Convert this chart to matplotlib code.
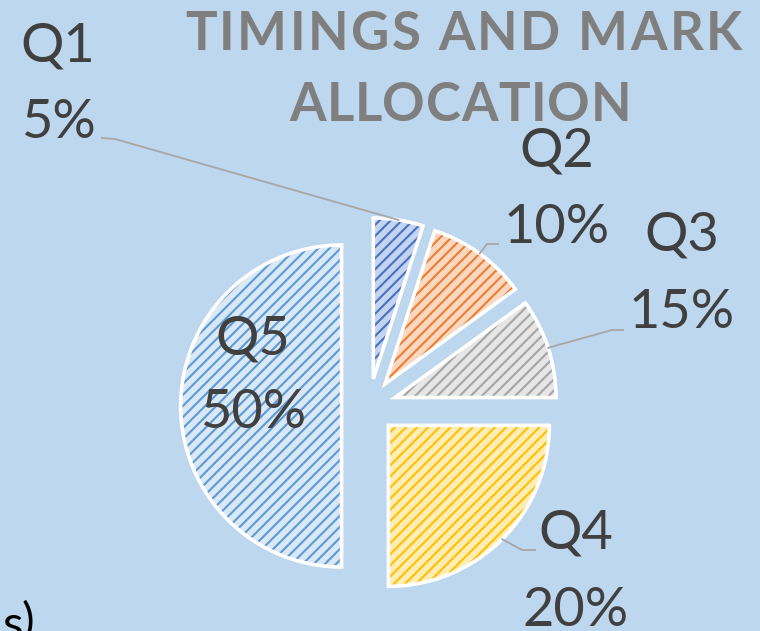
import matplotlib
matplotlib.use("Agg")
import matplotlib.pyplot as plt
from matplotlib.patches import Wedge
import numpy as np

# slice sizes as drawn (angles) and the data labels as printed
questions = ['Q1', 'Q2', 'Q3', 'Q4', 'Q5']
shares = [5, 10, 10, 25, 50]
label_pct = ['5%', '10%', '15%', '20%', '50%']

fill_colors = ['#C5D3EE', '#F9D8C2', '#E6E6E6', '#FFEDB5', '#DAE8F6']
hatch_colors = ['#4472C4', '#ED7D31', '#A5A5A5', '#FFC000', '#5B9BD5']

title_lines = ['TIMINGS AND MARK', 'ALLOCATION']

BG = '#BDD7EE'
W_PX, H_PX = 760, 631
CX, CY, R = 369, 406, 161   # pie centre and radius in pixels (from top-left)


def px(x, y):
    # pixel position (from top-left) -> data coords of the pie axes
    return (x - CX) / R, (CY - y) / R


plt.rcParams['hatch.linewidth'] = 1.5

fig = plt.figure(figsize=(W_PX / 100, H_PX / 100), dpi=100, facecolor=BG)
ax = fig.add_axes([0, 0, 1, 1])
ax.set_facecolor(BG)

wedges, _ = ax.pie(shares, startangle=90, counterclock=False, radius=1,
                   explode=[0.17] * len(shares), colors=fill_colors,
                   wedgeprops=dict(linewidth=0))

for w, hc in zip(wedges, hatch_colors):
    ax.add_patch(Wedge(w.center, w.r, w.theta1, w.theta2, facecolor='none',
                       edgecolor=hc, linewidth=0, hatch='///', zorder=2))
    ax.add_patch(Wedge(w.center, w.r, w.theta1, w.theta2, fill=False,
                       edgecolor='white', linewidth=2.6, zorder=3,
                       joinstyle='miter'))

ax.set_xlim(-CX / R, (W_PX - CX) / R)
ax.set_ylim((CY - H_PX) / R, CY / R)
ax.set_aspect('equal')
ax.axis('off')

# data labels: (x-centre, name baseline y, pct baseline y) in pixels
label_font = dict(family='Lato', fontsize=39, color='#404040')
label_pos = {
    'Q1': (58, 61, 138),
    'Q2': (557, 166, 243),
    'Q3': (682, 250, 328),
    'Q4': (576, 548, 626),
    'Q5': (253, 354, 428),
}
for q, pct in zip(questions, label_pct):
    x, y1, y2 = label_pos[q]
    ax.text(*px(x, y1), q, ha='center', va='baseline', zorder=5, **label_font)
    ax.text(*px(x, y2), pct, ha='center', va='baseline', zorder=5, **label_font)

# leader lines: start at the middle of each slice's arc, elbow, end near label
leaders = {
    'Q1': [(115, 139), (102, 138)],
    'Q2': [(487, 244), (498, 244)],
    'Q3': [(612, 330), (623, 330)],
    'Q4': [(522, 550), (535, 550)],
}
for q, w in zip(questions, wedges):
    if q not in leaders:
        continue
    mid = np.deg2rad((w.theta1 + w.theta2) / 2)
    sx = w.center[0] + w.r * np.cos(mid)
    sy = w.center[1] + w.r * np.sin(mid)
    pts = [(sx, sy)] + [px(*p) for p in leaders[q]]
    xs, ys = zip(*pts)
    ax.plot(xs, ys, color='#A6A6A6', linewidth=1.3, zorder=4,
            solid_joinstyle='miter')

# title with wide letter spacing, placed one character at a time
fig.canvas.draw()
renderer = fig.canvas.get_renderer()
title_font = dict(family='Lato', fontsize=38, fontweight='bold', color='#7F7F7F')
probe = fig.text(0, 0, 'H', **title_font)


def text_w(s):
    probe.set_text(s)
    return probe.get_window_extent(renderer).width


h_w = text_w('H')
title_spans = [(185, 742, 50), (289, 631, 121)]  # left px, right px, baseline px
for line, (left, right, base) in zip(title_lines, title_spans):
    offs = [text_w(line[:i] + 'H') - h_w if i else 0 for i in range(len(line))]
    natural = text_w(line)
    sp = (right - left - natural) / (len(line) - 1)
    for i, ch in enumerate(line):
        if ch == ' ':
            continue
        fig.text((left + offs[i] + i * sp) / W_PX, 1 - base / H_PX, ch,
                 ha='left', va='baseline', **title_font)
probe.remove()

# cut-off text from the slide behind the chart
fig.text(2 / W_PX, 1 - 605 / H_PX, 's', ha='left', va='top',
         family='Lato', fontsize=34, color='black')
fig.text(21 / W_PX, 1 - 601 / H_PX, ')', ha='left', va='top',
         family='Lato', fontsize=34, color='black')

fig.savefig('out.png', dpi=100, facecolor=BG)
